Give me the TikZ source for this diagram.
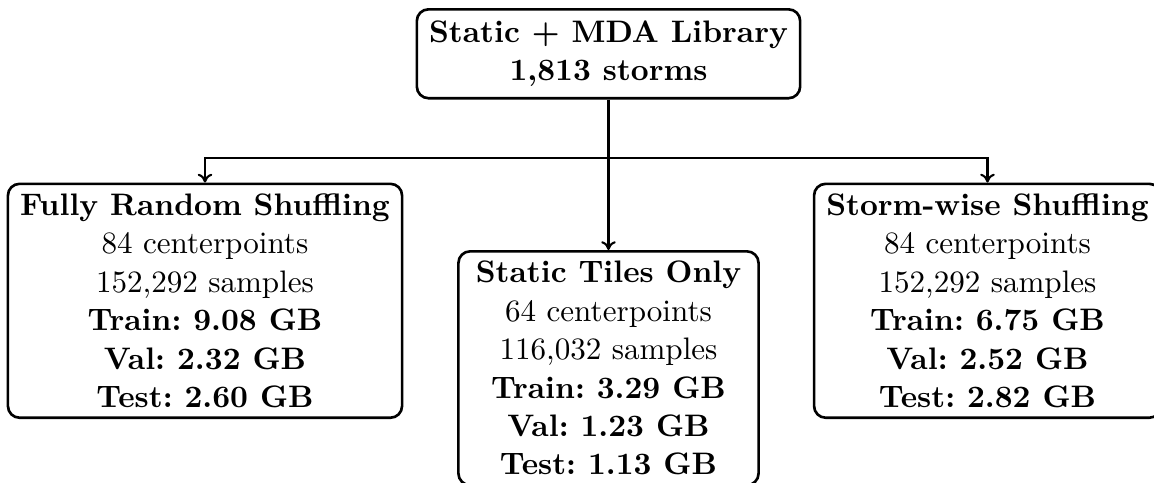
\documentclass[tikz,border=0pt]{standalone}
\usetikzlibrary{arrows.meta}
\begin{document}
\frenchspacing
\begin{tikzpicture}[x=0.3425pt,y=-0.3425pt,
  box/.style={draw,rounded corners=4pt,line width=0.9pt,align=center,inner xsep=4.2pt,inner ysep=3.4pt,font=\fontsize{10.65}{13.15}\selectfont},
  conn/.style={line width=0.7pt,-{To[length=3pt,width=5pt]}}]
\useasboundingbox (0,0) rectangle (1154,482);
\node[box,anchor=north,inner ysep=3.9pt] (top) at (608.5,8) {\textbf{Static + MDA Library}\\\textbf{1,813 storms}};
\node[box,anchor=north] (left) at (205,182.5) {\textbf{Fully Random Shuffling}\\84 centerpoints\\152,292 samples\\\textbf{Train: 9.08 GB}\\\textbf{Val: 2.32 GB}\\\textbf{Test: 2.60 GB}};
\node[box,anchor=north,minimum width=102.8pt] (mid) at (608.5,250) {\textbf{Static Tiles Only}\\64 centerpoints\\116,032 samples\\\textbf{Train: 3.29 GB}\\\textbf{Val: 1.23 GB}\\\textbf{Test: 1.13 GB}};
\node[box,anchor=north] (right) at (987.5,182.5) {\textbf{Storm-wise Shuffling}\\84 centerpoints\\152,292 samples\\\textbf{Train: 6.75 GB}\\\textbf{Val: 2.52 GB}\\\textbf{Test: 2.82 GB}};
\coordinate (split) at (608.5,158);
\draw[conn] (top.south) -- (mid.north);
\draw[conn] (split) -| (left.north);
\draw[conn] (split) -| (right.north);
\end{tikzpicture}
\end{document}
